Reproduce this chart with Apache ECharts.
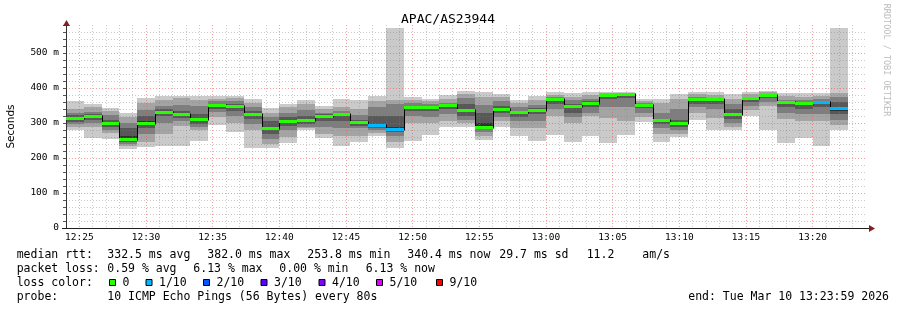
<!DOCTYPE html>
<html><head><meta charset="utf-8">
<script src="https://cdn.jsdelivr.net/npm/echarts@6/dist/echarts.min.js"></script>
<style>html,body{margin:0;padding:0;background:#fff}#c{width:897px;height:310px}</style>
</head><body><div id="c"></div>
<script>
// ---- data ----
const startTimes = ["12:24:00","12:25:20","12:26:40","12:28:00","12:29:20","12:30:40","12:32:00","12:33:20","12:34:40","12:36:00",
  "12:37:20","12:38:40","12:40:00","12:41:20","12:42:40","12:44:00","12:45:20","12:46:40","12:48:00","12:49:20",
  "12:50:40","12:52:00","12:53:20","12:54:40","12:56:00","12:57:20","12:58:40","13:00:00","13:01:20","13:02:40",
  "13:04:00","13:05:20","13:06:40","13:08:00","13:09:20","13:10:40","13:12:00","13:13:20","13:14:40","13:16:00",
  "13:17:20","13:18:40","13:20:00","13:21:20"];
const stepSeconds = 80;
// sorted ping rtts (ms) per step: p1 = fastest ... p10 = slowest
const p1  = [280,258,253,226,232,234,234,250,294,275,230,230,242,280,256,235,247,262,230,250,266,288,288,252,290,262,250,266,247,263,244,266,304,247,261,309,280,280,320,280,244,256,235,280];
const p2  = [290,290,271,233,245,268,291,280,318,300,280,240,260,285,270,262,262,272,245,300,300,305,300,262,305,285,285,320,300,320,315,305,318,270,268,330,315,290,338,348,312,305,305,295];
const p3  = [296,300,280,240,268,300,305,288,332,320,296,255,280,290,290,285,285,280,262,320,318,325,310,275,318,305,305,340,318,330,345,345,330,285,280,345,340,300,350,360,330,325,325,310];
const p4  = [303,308,290,246,285,320,313,298,340,335,312,270,292,296,305,305,292,285,275,335,335,340,320,282,330,318,325,355,330,345,368,372,342,296,290,355,355,312,360,372,345,340,345,325];
const p5  = [311,316,297,252,296,328,320,308,347,345,320,281,302,304,316,323,299,292,280,343,343,347,333,290,338,328,334,364,345,354,376,381,347,303,297,364,364,320,367,379,356,354,356,335];
const p6  = [316,320,302,262,305,334,326,314,351,350,326,290,308,310,320,327,303,298,290,347,347,350,340,300,344,333,339,367,349,358,378,382,350,308,302,368,367,328,370,381,359,357,360,345];
const p7  = [322,325,308,285,320,340,335,325,354,355,333,305,318,320,325,330,308,320,320,350,349,352,355,330,350,335,342,369,355,362,379,382,352,312,310,370,368,340,371,382,360,358,362,360];
const p8  = [330,332,322,300,338,350,352,348,362,362,345,318,330,338,330,335,322,345,355,358,355,358,372,352,362,345,352,374,365,370,381,383,358,330,340,375,372,355,375,384,365,365,368,375];
const p9  = [340,345,333,318,358,365,372,367,368,372,358,330,345,354,340,345,340,362,366,367,362,368,382,375,375,358,366,381,375,380,385,386,364,358,370,382,380,370,382,388,378,375,378,387];
const p10 = [363,353,342,328,371,377,378,376,376,378,368,342,354,366,350,369,366,377,571,373,370,380,391,388,384,366,377,388,386,388,390,390,370,370,382,388,388,383,388,392,386,385,385,571];
const median = [313,318,300,253.8,298,331,323,310,349,347,324,283,305,306,318,325,301,294,281,345,345,349,336,286,340,331,337,366,347,356,378,382,349,306,299,366,366,323,369,380,358,356,358,340.4];
const lossTenths = [0,0,0,0,0,0,0,0,0,0,0,0,0,0,0,0,0,1,1,0,0,0,0,0,0,0,0,0,0,0,0,0,0,0,0,0,0,0,0,0,0,0,1,1];

const lossKeys   = [0,1,2,3,4,5,9];
const lossLabels = ['0','1/10','2/10','3/10','4/10','5/10','9/10'];
const lossColors = ['#26ff00','#00b8ff','#0059ff','#5e00ff','#7e00ff','#dd00ff','#ff0000'];

const yTickLabels = {0:'0',100:'100 m',200:'200 m',300:'300 m',400:'400 m',500:'500 m'};
const xTickLabels = {25:'12:25',30:'12:30',35:'12:35',40:'12:40',45:'12:45',50:'12:50',55:'12:55',60:'13:00',65:'13:05',70:'13:10',75:'13:15',80:'13:20'};

const titleText = 'APAC/AS23944';
const legendLine1 = [['median rtt:',16.7],['332.5 ms avg',107.3],['382.0 ms max',207.3],['253.8 ms min',307.3],['340.4 ms now',407.3],['29.7 ms sd',499.3],['11.2',586.7],['am/s',642.3]];
const legendLine2 = [['packet loss:',16.7],['0.59 % avg',107.3],['6.13 % max',193.3],['0.00 % min',279.3],['6.13 % now',365.7]];
const legendBoxX = [109.5,146,203.5,261,319,376.5,436.5];
const probeText = '10 ICMP Echo Pings (56 Bytes) every 80s';
const endText = 'end: Tue Mar 10 13:23:59 2026';
const watermark = 'RRDTOOL / TOBI OETIKER';

// ---- helpers ----
function toMin(s){const a=s.split(':').map(Number);return a[0]*60+a[1]+a[2]/60-720;}
function lossColor(l){let c=lossColors[0];for(let k=0;k<lossKeys.length;k++){if(l>=lossKeys[k])c=lossColors[k];}return c;}
const stepMin = stepSeconds/60;
const pings=[p1,p2,p3,p4,p5,p6,p7,p8,p9,p10];
const smokeData = startTimes.map((t,i)=>{const s=toMin(t);return [s,s+stepMin].concat(pings.map(p=>p[i]));});
const medianData = startTimes.map((t,i)=>{const s=toMin(t);return [s,s+stepMin,median[i],i>0?median[i-1]:-1,lossTenths[i]];});
const greys=['#cacaca','#a4a4a4','#7e7e7e','#585858','#323232'];
const MONO='DejaVu Sans Mono';
const GRID_C='rgba(128,128,128,0.42)', MGRID_C='rgba(232,80,80,0.55)';

const chart = echarts.init(document.getElementById('c'), null, {renderer:'canvas'});

const graphics = [];
function txt(text,x,y,opt){graphics.push(Object.assign({type:'text',x:x,y:y,z:100,style:Object.assign({text:text,x:0,y:0,fontFamily:MONO,fontSize:11.5,fill:'#000',verticalAlign:'middle',align:'left'},opt||{})}));}
txt(titleText,448,19.5,{fontSize:13,align:'center'});
legendLine1.forEach(s=>txt(s[0],s[1],255));
legendLine2.forEach(s=>txt(s[0],s[1],269));
txt('loss color:',16.7,283);
lossLabels.forEach((l,k)=>{
  graphics.push({type:'rect',z:100,shape:{x:legendBoxX[k],y:279.5,width:6,height:6},style:{fill:lossColors[k],stroke:'#000',lineWidth:1}});
  txt(l,legendBoxX[k]+13,283);
});
txt('probe:',16.7,297);
txt(probeText,107.3,297);
txt(endText,889,297,{align:'right'});
graphics.push({type:'text',x:886,y:60,rotation:-Math.PI/2,z:100,style:{text:watermark,x:0,y:0,fontFamily:MONO,fontSize:8.5,fill:'#bdbdbd',align:'center',verticalAlign:'middle'}});
// axis arrows (rrdtool style)
graphics.push({type:'line',z:100,shape:{x1:866,y1:228.5,x2:870,y2:228.5},style:{stroke:'#1f1f1f',lineWidth:1}});
graphics.push({type:'line',z:100,shape:{x1:62,y1:228.5,x2:66,y2:228.5},style:{stroke:'#1f1f1f',lineWidth:1}});
graphics.push({type:'polygon',z:100,shape:{points:[[869,225],[875,228.5],[869,232]]},style:{fill:'#801f1f'}});
graphics.push({type:'polygon',z:100,shape:{points:[[63,26],[66.5,20],[70,26]]},style:{fill:'#801f1f'}});

chart.setOption({
  animation:false,
  backgroundColor:'#ffffff',
  grid:{left:66,right:31,top:25,bottom:82,containLabel:false,outerBoundsMode:'none'},
  xAxis:{type:'value',min:24,max:84,interval:1,z:3,
    axisLine:{show:true,lineStyle:{color:'#1f1f1f',width:1}},
    axisTick:{show:false},
    axisLabel:{fontFamily:MONO,fontSize:9.5,color:'#000',margin:5,
      formatter:v=>xTickLabels[Math.round(v)]||''},
    splitLine:{show:true,showMaxLine:false,lineStyle:{color:[GRID_C,MGRID_C,GRID_C,GRID_C,GRID_C],type:[1,2],width:1}}},
  yAxis:{type:'value',min:0,max:580,interval:20,z:3,
    name:'Seconds',nameLocation:'middle',nameGap:49,nameRotate:90,
    nameTextStyle:{fontFamily:'DejaVu Sans',fontSize:10.5,color:'#000'},
    axisLine:{show:true,lineStyle:{color:'#333333',width:1}},
    axisTick:{show:true,length:3,lineStyle:{color:'#555555',width:1}},
    axisLabel:{fontFamily:MONO,fontSize:9.5,color:'#000',margin:7,
      formatter:v=>{const r=Math.round(v);return (r in yTickLabels)?yTickLabels[r]:'';}},
    splitLine:{show:true,showMaxLine:false,lineStyle:{color:[MGRID_C,GRID_C,GRID_C,GRID_C,GRID_C],type:[1,2],width:1}}},
  graphic:graphics,
  series:[
    {type:'custom',name:'smoke',z:1,clip:true,data:smokeData,
      encode:{x:[0,1],y:[2,3,4,5,6,7,8,9,10,11]},
      renderItem:function(params,api){
        const x0=api.value(0),x1=api.value(1);const p=[];
        for(let k=0;k<10;k++)p.push(api.value(2+k));
        const ch=[];
        for(let k=0;k<5;k++){
          const a=api.coord([x0,p[9-k]]),b=api.coord([x1,p[k]]);
          const xa=Math.round(a[0]),xb=Math.round(b[0]),ya=Math.round(a[1]),yb=Math.round(b[1]);
          ch.push({type:'rect',shape:{x:xa,y:ya,width:xb-xa,height:Math.max(1,yb-ya)},style:{fill:greys[k]}});
        }
        return {type:'group',children:ch};
      }},
    {type:'custom',name:'median',z:5,clip:true,data:medianData,
      encode:{x:[0,1],y:2},
      renderItem:function(params,api){
        const x0=api.value(0),x1=api.value(1),m=api.value(2),pm=api.value(3),l=api.value(4);
        const a=api.coord([x0,m]),b=api.coord([x1,m]);
        const xa=Math.round(a[0]),xb=Math.round(b[0]),yc=Math.floor(a[1]);
        const ch=[];
        if(pm>=0){const c=api.coord([x0,pm]);const yp=Math.floor(c[1]);
          ch.push({type:'line',shape:{x1:xa+0.5,y1:Math.min(yp,yc)-0.5,x2:xa+0.5,y2:Math.max(yp,yc)+1.5},style:{stroke:'#000',lineWidth:1}});}
        ch.push({type:'rect',shape:{x:xa,y:yc-1,width:xb-xa,height:3},style:{fill:lossColor(l)}});
        return {type:'group',children:ch};
      }}
  ]
});
</script></body></html>
